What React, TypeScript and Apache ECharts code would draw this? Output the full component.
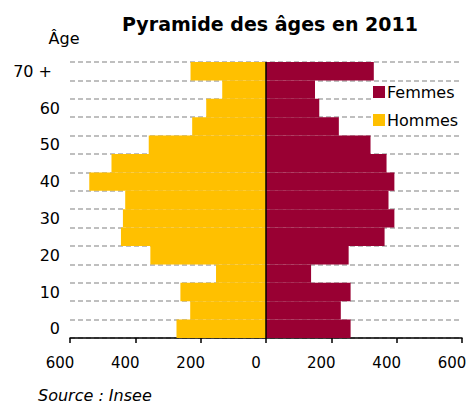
import React, { useEffect, useRef } from "react";
import * as echarts from "echarts";

const ageGroups = ["0", "5", "10", "15", "20", "25", "30", "35", "40", "45", "50", "55", "60", "65", "70"];
const hommes = [274, 232, 262, 153, 354, 444, 438, 431, 541, 473, 359, 226, 183, 134, 231];
const femmes = [259, 229, 259, 138, 253, 363, 393, 375, 393, 369, 320, 223, 163, 150, 330];
const xTicks = { min: -600, max: 600, step: 200 };

const FONT = "'DejaVu Sans', sans-serif";

export default function App() {
  const ref = useRef<HTMLDivElement>(null);
  useEffect(() => {
    if (!ref.current) return;
    const chart = echarts.init(ref.current, undefined, { renderer: "svg" });
    chart.setOption({
      animation: false,
      grid: { left: 70, right: 5, top: 62, bottom: 65, containLabel: false, outerBoundsMode: "none" },
      legend: {
        orient: "vertical",
        left: 371,
        top: 82,
        data: ["Femmes", "Hommes"],
        icon: "rect",
        itemWidth: 12,
        itemHeight: 12,
        itemGap: 12,
        padding: [2, 6, 2, 2],
        backgroundColor: "#fff",
        textStyle: { fontFamily: FONT, fontSize: 16, color: "#000", padding: [0, 0, 0, -3] },
      },
      xAxis: {
        type: "value",
        min: xTicks.min,
        max: xTicks.max,
        interval: xTicks.step,
        axisLine: { show: true, onZero: false, lineStyle: { color: "#000", width: 1.5 } },
        axisTick: { show: true, length: 5, lineStyle: { color: "#000", width: 1.5 } },
        axisLabel: {
          fontFamily: FONT,
          fontSize: 15,
          color: "#000",
          margin: 17,
          padding: [0, 20, 0, 0],
          showMinLabel: true,
          showMaxLabel: true,
          formatter: (v: number) => String(Math.abs(v)),
        },
        splitLine: { show: false },
      },
      yAxis: {
        type: "category",
        data: ageGroups,
        boundaryGap: true,
        axisLine: { show: false },
        axisTick: { show: false },
        axisLabel: {
          interval: 1,
          fontFamily: FONT,
          fontSize: 16,
          color: "#000",
          margin: 10,
          formatter: (v: string) => (v === "70" ? "{p|70 +}" : v),
          rich: { p: { fontFamily: FONT, fontSize: 16, color: "#000", padding: [0, 8, 0, 0] } },
        },
        splitLine: {
          show: true,
          interval: 0,
          lineStyle: { color: "#BFBFBF", width: 2, type: [5, 3] },
        },
      },
      series: [
        {
          name: "Hommes",
          type: "bar",
          stack: "pop",
          barCategoryGap: "0%",
          itemStyle: { color: "#FFC000" },
          data: hommes.map((v) => -v),
          markLine: {
            silent: true,
            symbol: "none",
            label: { show: false },
            lineStyle: { color: "#000", width: 1.5, type: "solid" },
            data: [{ xAxis: 0 }],
          },
        },
        {
          name: "Femmes",
          type: "bar",
          stack: "pop",
          barCategoryGap: "0%",
          itemStyle: { color: "#990033" },
          data: femmes,
        },
      ],
      graphic: [
        {
          type: "text",
          x: 270,
          y: 24,
          style: {
            text: "Pyramide des âges en 2011",
            fontFamily: FONT,
            fontSize: 19,
            fontWeight: "bold",
            fill: "#000",
            align: "center",
            verticalAlign: "middle",
          },
        },
        {
          type: "text",
          x: 64,
          y: 38,
          style: {
            text: "Âge",
            fontFamily: FONT,
            fontSize: 16,
            fill: "#000",
            align: "center",
            verticalAlign: "middle",
          },
        },
        {
          type: "text",
          x: 38,
          y: 395,
          style: {
            text: "Source : Insee",
            fontFamily: FONT,
            fontSize: 16,
            fontStyle: "italic",
            fill: "#000",
            align: "left",
            verticalAlign: "middle",
          },
        },
      ],
    });
    return () => chart.dispose();
  }, []);
  return <div ref={ref} style={{ width: 467, height: 403, position: "absolute", left: 0, top: 0 }} />;
}
